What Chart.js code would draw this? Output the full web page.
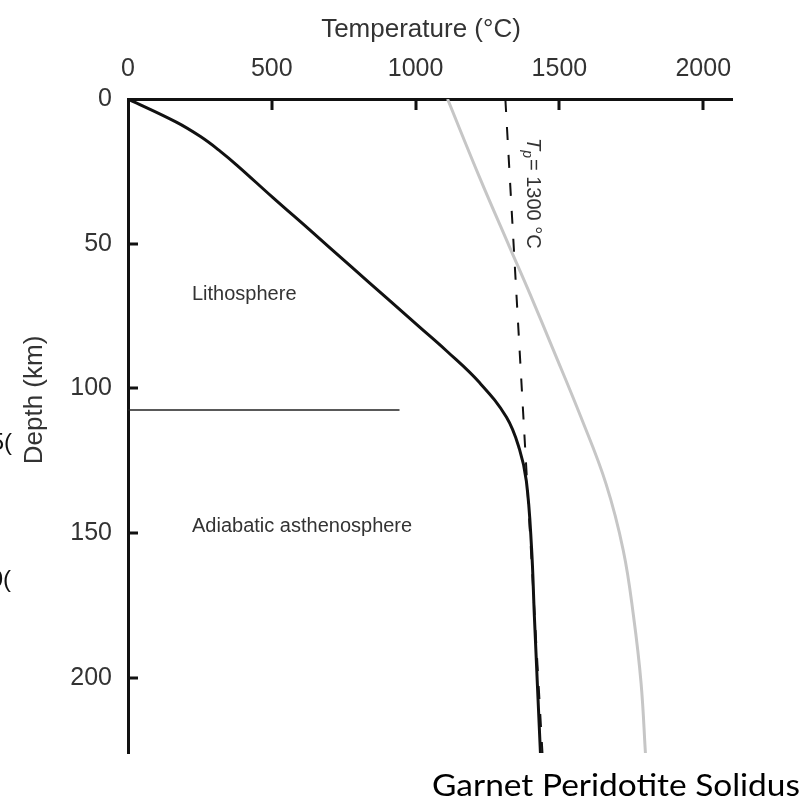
<!DOCTYPE html>
<html lang="en">
<head>
<meta charset="UTF-8">
<title>Geotherm and garnet peridotite solidus</title>
<script src="https://cdn.jsdelivr.net/npm/chart.js@4"></script>
<style>
  html, body { margin: 0; padding: 0; background: #fff; }
  canvas { display: block; }
</style>
</head>
<body>
<canvas id="geo" width="812" height="804"></canvas>
<script>
// conductive lithosphere geotherm joining the mantle adiabat (depth km, temperature °C)
const geothermDepth = [0, 8, 13, 18, 23, 34, 45, 58, 69, 79, 87, 98, 110, 121, 132, 155, 179, 226];
const geothermTemp  = [0, 168, 252, 320, 380, 503, 629, 777, 902, 1016, 1107, 1222, 1316, 1361, 1385, 1403, 1413, 1434];

// garnet peridotite solidus
const solidusDepth = [0, 27, 51, 67, 86.5, 110, 133, 156, 179, 202, 226];
const solidusTemp  = [1111, 1222, 1326, 1396, 1478, 1575, 1662, 1722, 1758, 1784, 1799];

// adiabat for a potential temperature of 1300 °C
const adiabatDepth = [0, 226];
const adiabatTemp  = [1312, 1441];

// base of the lithosphere marker
const lidDepth = [107.5, 107.5];
const lidTemp  = [0, 944];

const tempTicks  = [0, 500, 1000, 1500, 2000];
const depthTicks = [0, 50, 100, 150, 200];

const pts = (xs, ys) => xs.map((x, i) => ({ x: x, y: ys[i] }));
const SANS = '"Liberation Sans", Arimo, Helvetica, Arial, sans-serif';
const INK = '#333';

const decor = {
  id: 'decor',
  afterDraw(chart) {
    const ctx = chart.ctx;
    const xs = chart.scales.x, ys = chart.scales.y;
    const area = chart.chartArea;
    ctx.save();

    // inward tick marks
    ctx.strokeStyle = '#111';
    ctx.lineWidth = 3;
    ctx.beginPath();
    tempTicks.slice(1).forEach(v => {
      const px = Math.round(xs.getPixelForValue(v));
      ctx.moveTo(px, area.top);
      ctx.lineTo(px, area.top + 11);
    });
    depthTicks.slice(1).forEach(v => {
      const py = Math.round(ys.getPixelForValue(v));
      ctx.moveTo(area.left, py);
      ctx.lineTo(area.left + 10, py);
    });
    ctx.stroke();

    // axis titles
    ctx.fillStyle = INK;
    ctx.font = '26px ' + SANS;
    ctx.textAlign = 'center';
    ctx.textBaseline = 'middle';
    ctx.fillText('Temperature (°C)', 421, 30);
    ctx.save();
    ctx.translate(35, 400);
    ctx.rotate(-Math.PI / 2);
    ctx.fillText('Depth (km)', 0, 0);
    ctx.restore();

    // region labels
    ctx.font = '20px ' + SANS;
    ctx.textAlign = 'left';
    ctx.fillText('Lithosphere', 192, 294);
    ctx.fillText('Adiabatic asthenosphere', 192, 526);

    // T_p label along the adiabat
    ctx.save();
    ctx.translate(533, 138);
    ctx.rotate(Math.PI / 2);
    ctx.textBaseline = 'middle';
    ctx.font = 'italic 20px ' + SANS;
    ctx.fillText('T', 0, 0);
    let w = ctx.measureText('T').width;
    ctx.font = 'italic 14px ' + SANS;
    ctx.fillText('p', w, 6);
    w += ctx.measureText('p').width + 1;
    ctx.font = '20px ' + SANS;
    ctx.fillText('= 1300 °C', w, 0);
    ctx.restore();

    // clipped characters at the left edge
    ctx.fillStyle = '#111';
    ctx.font = '24px ' + SANS;
    ctx.textAlign = 'right';
    ctx.fillText('5(', 12, 443);
    ctx.fillText('0(', 11, 580);

    // caption under the solidus
    ctx.fillStyle = '#000';
    ctx.font = '30px Lato, "Open Sans", sans-serif';
    ctx.textAlign = 'left';
    ctx.textBaseline = 'alphabetic';
    const cap = 'Garnet Peridotite Solidus';
    const cw = ctx.measureText(cap).width;
    ctx.save();
    ctx.translate(432, 796);
    ctx.scale(368 / cw, 1);
    ctx.fillText(cap, 0, 0);
    ctx.restore();

    ctx.restore();
  }
};

function draw() {
  new Chart(document.getElementById('geo'), {
    type: 'line',
    data: {
      datasets: [
        { data: pts(solidusTemp, solidusDepth), borderColor: '#c6c6c6', borderWidth: 3,
          pointRadius: 0, tension: 0.4 },
        { data: pts(adiabatTemp, adiabatDepth), borderColor: '#111', borderWidth: 2,
          borderDash: [13, 15], pointRadius: 0 },
        { data: pts(geothermTemp, geothermDepth), borderColor: '#111', borderWidth: 3,
          pointRadius: 0, tension: 0.4 },
        { data: pts(lidTemp, lidDepth), borderColor: '#222', borderWidth: 1.5, pointRadius: 0 }
      ]
    },
    options: {
      responsive: false,
      animation: false,
      devicePixelRatio: 1,
      layout: { padding: { left: 0, top: 0, right: 80, bottom: 51 } },
      plugins: { legend: { display: false }, tooltip: { enabled: false } },
      scales: {
        x: {
          type: 'linear', position: 'top', min: 0, max: 2100,
          grid: { display: false, drawTicks: false },
          border: { display: true, color: '#111', width: 3 },
          afterBuildTicks: s => { s.ticks = tempTicks.map(v => ({ value: v })); },
          ticks: { padding: 15, color: INK, font: { family: SANS, size: 25 },
                   callback: v => String(v) },
          afterFit: s => { s.height = 99; }
        },
        y: {
          type: 'linear', reverse: true, min: 0, max: 226,
          grid: { display: false, drawTicks: false },
          border: { display: true, color: '#111', width: 3 },
          afterBuildTicks: s => { s.ticks = depthTicks.map(v => ({ value: v })); },
          ticks: { padding: 16, color: INK, font: { family: SANS, size: 25 },
                   callback: v => String(v) },
          afterFit: s => { s.width = 128; }
        }
      }
    },
    plugins: [decor]
  });
}

Promise.all([
  document.fonts.load('24px "Liberation Sans"'),
  document.fonts.load('italic 20px "Liberation Sans"'),
  document.fonts.load('30px Lato')
]).then(draw, draw);
</script>
</body>
</html>
